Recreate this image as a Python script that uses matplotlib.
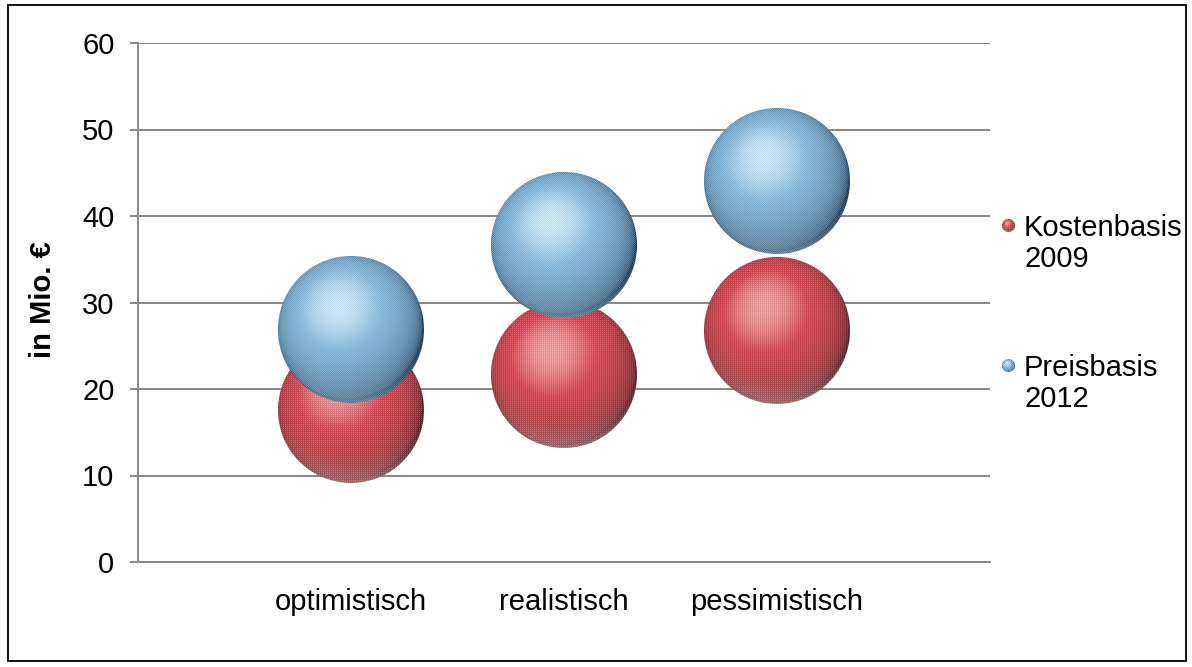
import numpy as np
import matplotlib
matplotlib.use("Agg")
import matplotlib.pyplot as plt
from matplotlib.patches import Rectangle
from matplotlib.offsetbox import OffsetImage, AnnotationBbox

# ---- data -------------------------------------------------------------
categories = ["optimistisch", "realistisch", "pessimistisch"]
kosten_2009 = [17.6, 21.6, 26.7]
preis_2012 = [26.8, 36.7, 44.1]
series_labels = ["Kostenbasis\n2009", "Preisbasis\n2012"]
y_ticks = [0, 10, 20, 30, 40, 50, 60]

plt.rcParams["font.family"] = ["Liberation Sans", "DejaVu Sans"]

W, H, DPI = 1192, 667, 100
FS = 21
GRID = "#868686"


def sphere_image(n, hi, mid, dark, rim, texture):
    """Shaded sphere with a faint print texture, as an n x n RGBA array."""
    yy, xx = np.mgrid[0:n, 0:n]
    x = (xx + 0.5) / n * 2 - 1
    y = 1 - (yy + 0.5) / n * 2
    rr = np.sqrt(x ** 2 + y ** 2)
    z = np.sqrt(np.clip(1 - rr ** 2, 0, 1))
    L = np.array([-0.18, 0.32, 0.93])
    L = L / np.linalg.norm(L)
    d = np.clip(x * L[0] + y * L[1] + z * L[2], 0, 1)

    hi, mid, dark, rim = (np.array(c) / 255.0 for c in (hi, mid, dark, rim))
    # dark -> mid -> highlight according to the diffuse term
    t1 = np.clip(d / 0.8, 0, 1)[..., None]
    t2 = np.clip((d - 0.8) / 0.2, 0, 1)[..., None] ** 1.3
    col = dark + (mid - dark) * t1 ** 0.55
    col = col + (hi - col) * t2
    # pale reflection along the lower rim
    bounce = (np.clip(-y, 0, 1) ** 2 * np.clip(rr - 0.55, 0, 1) / 0.45)[..., None]
    col = col + (rim - col) * np.clip(bounce * 0.55, 0, 1)

    if texture == "checker":
        pat = np.where((xx + yy) % 2 == 0, -1.0, 1.0)
    else:
        pat = np.where((yy % 2 == 0) | (xx % 2 == 0), -1.0, 1.0)
    col = col + 0.06 * pat[..., None]

    rgba = np.zeros((n, n, 4))
    rgba[..., :3] = np.clip(col, 0, 1)
    rgba[..., 3] = np.clip((1 - rr) * n / 2 + 0.5, 0, 1)
    return rgba


blue_style = dict(hi=(200, 230, 248), mid=(135, 182, 214), dark=(35, 65, 92),
                  rim=(170, 200, 222), texture="checker")
red_style = dict(hi=(242, 165, 168), mid=(218, 85, 95), dark=(100, 50, 55),
                 rim=(232, 185, 185), texture="grid")

R_PX = 73
big_red = sphere_image(2 * R_PX, **red_style)
big_blue = sphere_image(2 * R_PX, **blue_style)
small_red = sphere_image(13, **red_style)
small_blue = sphere_image(13, **blue_style)

fig = plt.figure(figsize=(W / DPI, H / DPI), dpi=DPI)
ax_l, ax_b, ax_w, ax_h = 138 / W, 1 - 562 / H, 852 / W, 519 / H
ax = fig.add_axes([ax_l, ax_b, ax_w, ax_h])

xmin, xmax, ymin, ymax = 0, 4, 0, 60
xs = np.arange(1, len(categories) + 1)
rx = R_PX / (ax_w * W / (xmax - xmin))
ry = R_PX / (ax_h * H / (ymax - ymin))

for vals, img, z in ((kosten_2009, big_red, 3), (preis_2012, big_blue, 4)):
    for cx, cy in zip(xs, vals):
        ax.imshow(img, extent=(cx - rx, cx + rx, cy - ry, cy + ry),
                  aspect="auto", interpolation="antialiased", zorder=z)

ax.set_xlim(xmin, xmax)
ax.set_ylim(ymin, ymax)
ax.set_xticks(xs)
ax.set_xticklabels(categories)
ax.set_yticks(y_ticks)
ax.tick_params(axis="x", length=0, pad=19, labelsize=FS)
ax.tick_params(axis="y", length=6, width=1.4, color=GRID, pad=11, labelsize=FS)
for yv in y_ticks[1:]:
    ax.axhline(yv, color=GRID, lw=1.4, zorder=1)
for side in ("top", "right"):
    ax.spines[side].set_visible(False)
for side in ("left", "bottom"):
    ax.spines[side].set_color(GRID)
    ax.spines[side].set_linewidth(1.4)
ax.set_facecolor("none")

fig.text(43 / W, 1 - 300 / H, "in Mio. €", rotation=90, ha="center", va="center",
         fontsize=21, fontweight="bold")

# legend
for (img, label, ypx) in ((small_red, series_labels[0], 226), (small_blue, series_labels[1], 366)):
    ab = AnnotationBbox(OffsetImage(img, zoom=1, dpi_cor=False), (1008, H - ypx),
                        xycoords="figure pixels", frameon=False)
    fig.add_artist(ab)
    fig.text(1024 / W, 1 - (ypx - 12) / H, label, ha="left", va="top",
             fontsize=FS, linespacing=1.12)

fig.add_artist(Rectangle((8 / W, 1 - 661 / H), (1186 - 8) / W, (661 - 5) / H,
                         transform=fig.transFigure, fill=False, ec="black", lw=1.3))

fig.savefig("out.png", dpi=DPI)
